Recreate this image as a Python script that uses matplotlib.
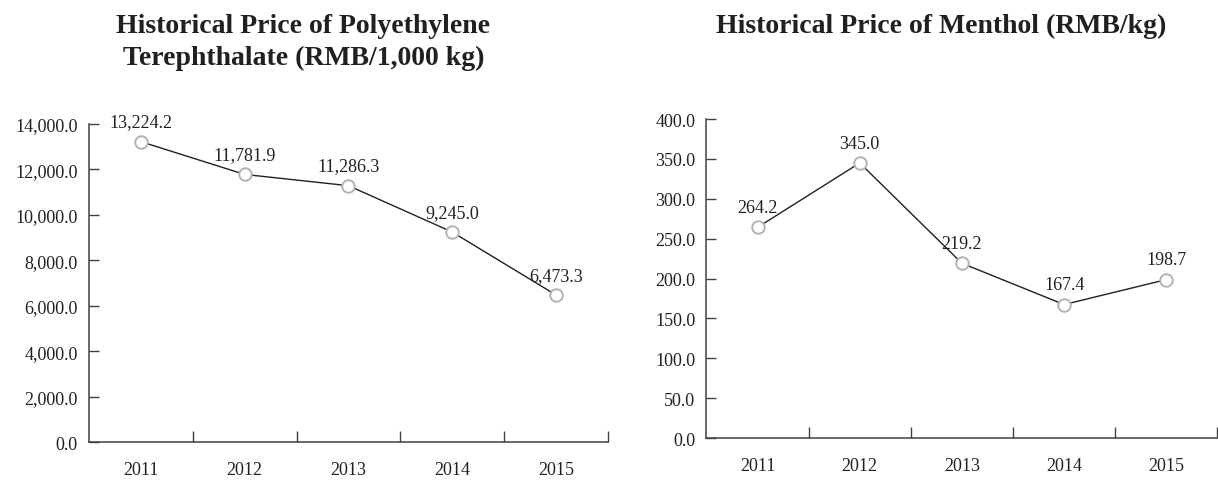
import numpy as np
import matplotlib.pyplot as plt

plt.rcParams['font.family'] = ['Liberation Serif', 'DejaVu Serif']

years = ['2011', '2012', '2013', '2014', '2015']
pet_price = [13224.2, 11781.9, 11286.3, 9245.0, 6473.3]
menthol_price = [264.2, 345.0, 219.2, 167.4, 198.7]

fig = plt.figure(figsize=(12.18, 4.81), dpi=100)
ax1 = fig.add_axes([0.0731, 0.079, 0.426, 0.661])
ax2 = fig.add_axes([0.580, 0.0873, 0.4195, 0.663])


def draw_panel(ax, values, ymax, ystep):
    x = np.arange(len(values)) + 0.5
    ax.plot(x, values, color='#231f20', lw=1.0, marker='o', ms=9,
            mfc='white', mec='#b3b3b3', mew=1.4, zorder=3, clip_on=False)
    for xi, v in zip(x, values):
        ax.annotate(f'{v:,.1f}', (xi, v), xytext=(0, 8),
                    textcoords='offset points', ha='center', va='bottom',
                    fontsize=13, color='#231f20')
    ax.set_xlim(0, len(values))
    ax.set_ylim(0, ymax)
    ax.set_yticks(np.arange(0, ymax + ystep / 2, ystep))
    ax.yaxis.set_major_formatter(plt.FuncFormatter(lambda v, p: f'{v:,.1f}'))
    ax.set_xticks(np.arange(1, len(values) + 1))
    ax.set_xticklabels([])
    ax.set_xticks(x, minor=True)
    ax.set_xticklabels(years, minor=True)
    ax.tick_params(axis='x', which='major', direction='in', length=8,
                   width=1.0, color='#404040')
    ax.tick_params(axis='x', which='minor', length=0, pad=14, labelsize=13,
                   labelcolor='#231f20')
    ax.tick_params(axis='y', direction='in', length=7, width=1.0,
                   color='#404040', pad=8, labelsize=13, labelcolor='#231f20')
    for s in ('top', 'right'):
        ax.spines[s].set_visible(False)
    for s in ('left', 'bottom'):
        ax.spines[s].set_color('#404040')
        ax.spines[s].set_linewidth(1.1)


draw_panel(ax1, pet_price, 14000, 2000)
draw_panel(ax2, menthol_price, 400, 50)

fig.text(0.249, 0.912, 'Historical Price of Polyethylene\nTerephthalate (RMB/1,000 kg)',
         ha='center', va='center', fontsize=20, fontweight='bold',
         linespacing=1.34, color='#231f20')
fig.text(0.773, 0.946, 'Historical Price of Menthol (RMB/kg)',
         ha='center', va='center', fontsize=20, fontweight='bold',
         color='#231f20')

fig.savefig('out.png', dpi=100)
